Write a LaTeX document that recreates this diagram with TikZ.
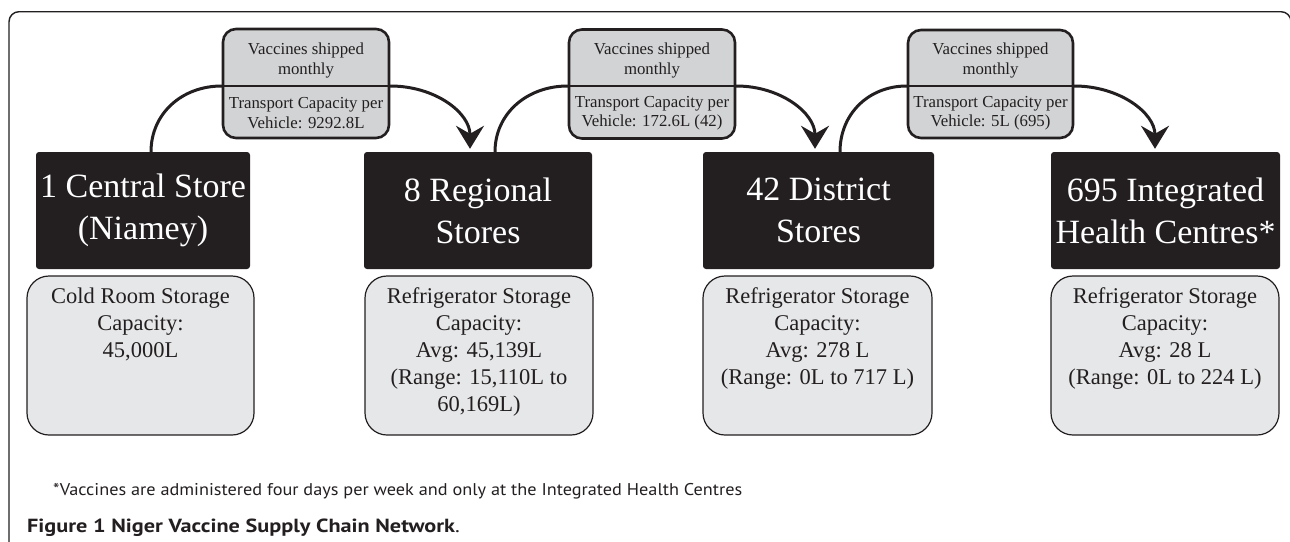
\documentclass[tikz,border=0pt]{standalone}
\usepackage{fontspec}
\usepackage{graphicx}
\setmainfont{Liberation Serif}
\newfontfamily\notesans{PT Sans}
\usetikzlibrary{arrows.meta,calc,backgrounds}
\definecolor{ink}{HTML}{231F20}
\definecolor{topgray}{HTML}{D1D3D4}
\definecolor{lowgray}{HTML}{E6E7E8}
\tikzset{
  storebox/.style={rectangle, rounded corners=3pt, fill=ink, draw=none, text=white,
    font=\fontsize{34}{42}\selectfont, align=center, inner sep=0pt},
  shipbox/.style={rectangle, rounded corners=13pt, fill=topgray, draw=ink, line width=2.6pt, inner sep=0pt},
  capbox/.style={rectangle, rounded corners=22pt, fill=lowgray, draw=ink, line width=1.2pt, inner sep=0pt},
  shiptext/.style={font=\fontsize{16.8}{19.5}\selectfont, align=center, text=ink, inner sep=0pt},
  captext/.style={font=\fontsize{22.5}{27}\selectfont, align=center, text=ink, inner sep=0pt, anchor=north},
  divline/.style={draw=ink, line width=2pt},
  flow/.style={draw=ink, line width=3pt, -{Stealth[length=23pt,width=28pt,inset=8pt]}},
  frameline/.style={draw=ink, line width=1.4pt, rounded corners=10pt},
  notetext/.style={anchor=west, inner sep=0pt, text=ink, font=\notesans\fontsize{17}{20}\selectfont},
}
\begin{document}
\begin{tikzpicture}[x=1pt,y=-1pt]
\useasboundingbox (0,0) rectangle (1290,541);
\draw[frameline] (9,560) -- (9,11.7) -- (1291,11.7) -- (1291,560);

% store boxes
\node[storebox, minimum width=214pt, minimum height=117pt] (b1) at (143,210.5) {1 Central Store\\(Niamey)};
\node[storebox, minimum width=228pt, minimum height=117pt] (b2) at (478,210.5) {8 Regional\\Stores};
\node[storebox, minimum width=231pt, minimum height=117pt] (b3) at (818.5,210.5) {42 District\\Stores};
\node[storebox, minimum width=229pt, minimum height=117pt] (b4) at (1165.5,210.5) {695 Integrated\\Health Centres*};

% capacity boxes
\node[capbox, minimum width=227pt, minimum height=159pt] (l1) at (140.5,355.5) {};
\node[capbox, minimum width=228pt, minimum height=159pt] (l2) at (479,355.5) {};
\node[capbox, minimum width=229pt, minimum height=159pt] (l3) at (817.5,355.5) {};
\node[capbox, minimum width=228pt, minimum height=159pt] (l4) at (1165,355.5) {};
\node[captext] (l1t) at ($(l1.north)+(0,12)$) {Cold Room Storage\\Capacity:\\45,000L};
\node[captext] (l2t) at ($(l2.north)+(0,12)$) {Refrigerator Storage\\Capacity:\\Avg: 45,139L\\(Range: 15,110L to\\60,169L)};
\node[captext] (l3t) at ($(l3.north)+(0,12)$) {Refrigerator Storage\\Capacity:\\Avg: 278 L\\(Range: 0L to 717 L)};
\node[captext] (l4t) at ($(l4.north)+(0,12)$) {Refrigerator Storage\\Capacity:\\Avg: 28 L\\(Range: 0L to 224 L)};

% shipping boxes
\node[shipbox, minimum width=166pt, minimum height=109pt] (g1) at (306,83.5) {};
\node[shipbox, minimum width=166pt, minimum height=109pt] (g2) at (652,84) {};
\node[shipbox, minimum width=165pt, minimum height=108pt] (g3) at (990.5,84) {};
\coordinate (d1) at (306,86);
\coordinate (d2) at (652,86);
\coordinate (d3) at (990.5,86);
\draw[divline] (g1.west |- d1) -- (g1.east |- d1);
\draw[divline] (g2.west |- d2) -- (g2.east |- d2);
\draw[divline] (g3.west |- d3) -- (g3.east |- d3);
\node[shiptext] (g1a) at (306,60.5) {Vaccines shipped\\monthly};
\node[shiptext] (g1b) at (306,113) {Transport Capacity per\\Vehicle: 9292.8L};
\node[shiptext] (g2a) at (652,60.5) {Vaccines shipped\\monthly};
\node[shiptext] (g2b) at (652,113) {Transport Capacity per\\Vehicle: 172.6L (42)};
\node[shiptext] (g3a) at (990.5,60.5) {Vaccines shipped\\monthly};
\node[shiptext] (g3b) at (990.5,113) {Transport Capacity per\\Vehicle: 5L (695)};

% connectors
\begin{pgfonlayer}{background}
\draw[flow] ($(b1.north)+(8,0)$) .. controls +(0,-38) and +(-40,0) .. (g1.west |- d1)
   -- (g1.east |- d1) .. controls +(45,0) and +(0,-36) .. ($(b2.north)+(-8,-3)$);
\draw[flow] ($(b2.north)+(17,0)$) .. controls +(0,-38) and +(-41,0) .. (g2.west |- d2)
   -- (g2.east |- d2) .. controls +(44,0) and +(0,-36) .. ($(b3.north)+(-3.5,-3)$);
\draw[flow] ($(b3.north)+(21.5,0)$) .. controls +(0,-38) and +(-38,0) .. (g3.west |- d3)
   -- (g3.east |- d3) .. controls +(45,0) and +(0,-36) .. ($(b4.north)+(-10.5,-3)$);
\end{pgfonlayer}

% notes
\node[notetext] (fn) at (53,491) {\scalebox{1.074}[1]{*Vaccines are administered four days per week and only at the Integrated Health Centres}};
\node[notetext, font=\notesans\fontsize{19}{22}\selectfont] (cap) at (27,528) {\scalebox{1.17}[1]{\textbf{Figure 1 Niger Vaccine Supply Chain Network}.}};
\end{tikzpicture}
\end{document}
